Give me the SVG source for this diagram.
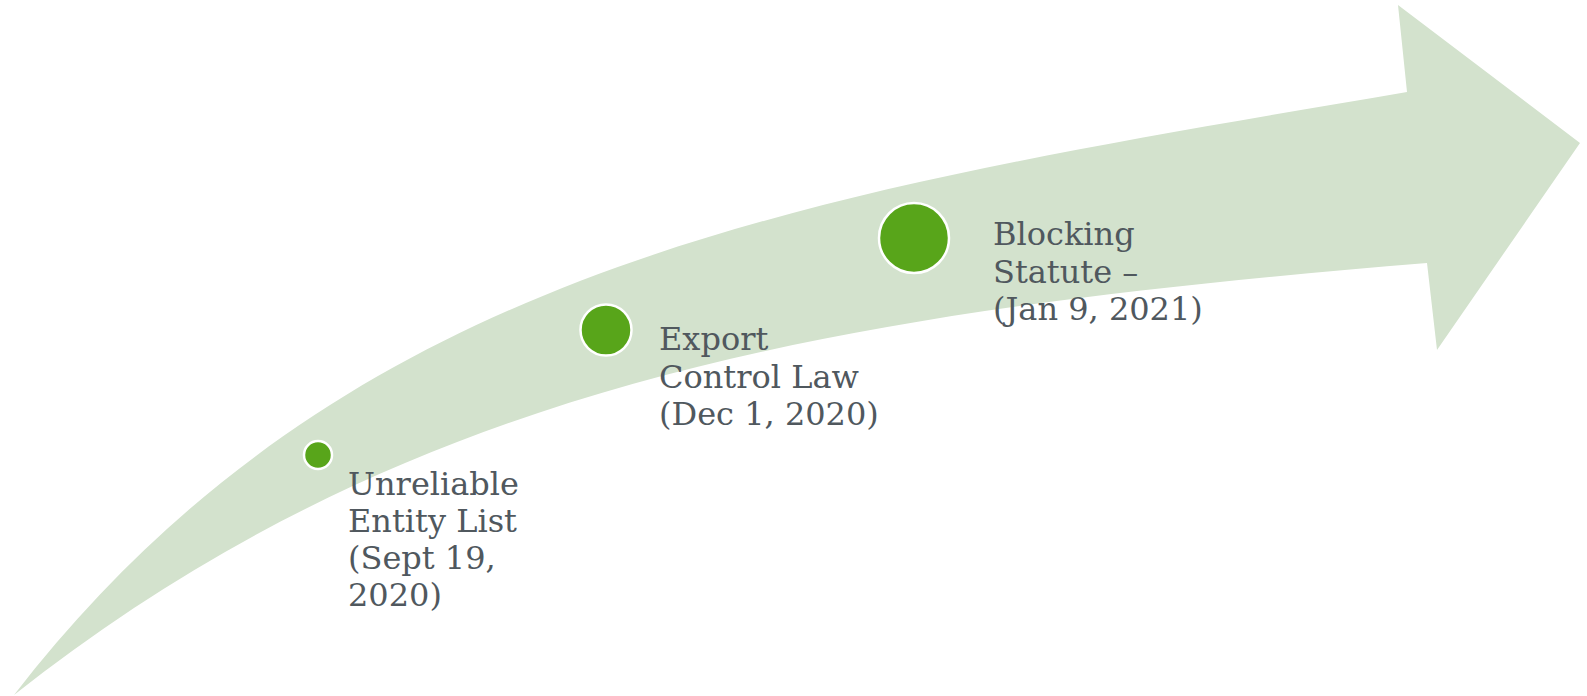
<svg xmlns="http://www.w3.org/2000/svg" width="1587" height="696" viewBox="0 0 1587 696">
  <style>
    .band { fill: #d3e2cd; }
    .dot { fill: #58a51a; stroke: #ffffff; stroke-width: 2.5; }
    .label { font-family: "DejaVu Serif", "Liberation Serif", serif; font-size: 32px; fill: #50585e; }
  </style>
  <rect width="1587" height="696" fill="#ffffff"/>

  <!-- curved timeline arrow -->
  <g id="timeline-arrow">
    <path class="band" d="M14,695 C350,260 815,193 1407,92 L1398,5 L1580,143 L1437,350 L1427,263 C829,312 406,385 14,695 Z"/>
  </g>

  <g id="event-unreliable-entity-list">
    <circle class="dot" cx="318" cy="455" r="14"/>
    <text class="label">
      <tspan x="348" y="495">Unreliable</tspan>
      <tspan x="348" y="532">Entity List</tspan>
      <tspan x="348" y="569">(Sept 19,</tspan>
      <tspan x="348" y="606">2020)</tspan>
    </text>
  </g>

  <g id="event-export-control-law">
    <circle class="dot" cx="606" cy="330" r="25.5"/>
    <text class="label">
      <tspan x="659" y="350">Export</tspan>
      <tspan x="659" y="388">Control Law</tspan>
      <tspan x="659" y="425">(Dec 1, 2020)</tspan>
    </text>
  </g>

  <g id="event-blocking-statute">
    <circle class="dot" cx="914" cy="238" r="35"/>
    <text class="label">
      <tspan x="993" y="245">Blocking</tspan>
      <tspan x="993" y="283">Statute –</tspan>
      <tspan x="993" y="320">(Jan 9, 2021)</tspan>
    </text>
  </g>
</svg>
